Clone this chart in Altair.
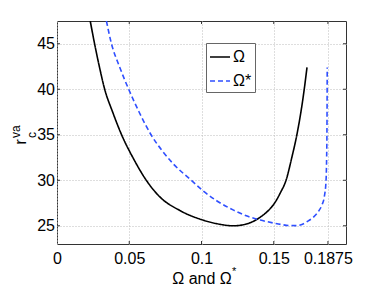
import altair as alt
import pandas as pd

# ---- data ----
series_names = ["Ω", "Ω*"]
black_x = [0.0230, 0.0260, 0.0293, 0.0330, 0.0385, 0.0447, 0.0525, 0.0618, 0.0710, 0.0848,
           0.1010, 0.1100, 0.1222, 0.1300, 0.1360, 0.1420, 0.1464, 0.1510, 0.1545, 0.1585,
           0.1625, 0.1660, 0.1688, 0.1711, 0.1730]
black_y = [47.5, 45.0, 42.5, 40.0, 37.5, 35.0, 32.5, 30.0, 28.2, 26.7,
           25.63, 25.25, 25.0, 25.15, 25.5, 26.1, 26.7, 27.6, 28.6, 30.0,
           32.5, 35.0, 37.5, 40.0, 42.4]
blue_x = [0.0342, 0.0377, 0.0432, 0.0496, 0.0568, 0.0651, 0.0725, 0.0802, 0.0929, 0.1010,
          0.1110, 0.1222, 0.1310, 0.1407, 0.1500, 0.1560, 0.1610, 0.1650, 0.1690, 0.1730,
          0.1775, 0.1810, 0.1834, 0.1850, 0.1862, 0.1866, 0.1868, 0.1869, 0.1870]
blue_y = [47.5, 45.0, 42.5, 40.0, 37.5, 35.0, 33.3, 31.85, 30.0, 28.85,
          27.7, 26.72, 26.1, 25.63, 25.3, 25.12, 25.03, 25.02, 25.12, 25.45,
          25.95, 26.6, 27.3, 28.2, 30.0, 32.5, 35.0, 38.0, 42.4]
x_ticks = [0, 0.05, 0.1, 0.15, 0.1875]
y_ticks = [25, 30, 35, 40, 45]
x_domain = [0, 0.2]
y_domain = [23, 47.5]

rows = []
for i, (x, y) in enumerate(zip(black_x, black_y)):
    rows.append({"s": series_names[0], "x": x, "y": y, "i": i})
for i, (x, y) in enumerate(zip(blue_x, blue_y)):
    rows.append({"s": series_names[1], "x": x, "y": y, "i": i})
df = pd.DataFrame(rows)

W, H = 289, 223
FONT = "Liberation Sans"
BOX = "#333333"

xs = alt.Scale(domain=x_domain, nice=False, zero=False)
ys = alt.Scale(domain=y_domain, nice=False, zero=False)

x_axis = alt.Axis(values=x_ticks, format=".4~f", title="Ω and Ω", titleFont=FONT,
                  titleFontSize=16, titleFontWeight="normal", titleColor="black",
                  titleBaseline="alphabetic", titleY=39, labelPadding=6,
                  labelOverlap=False, labelFlush=False)
y_axis = alt.Axis(values=y_ticks, title="", labelPadding=2.5, labelOverlap=False)

leg = alt.Legend(title=None, orient="none", legendX=149, legendY=22,
                 symbolType="stroke", symbolSize=400, symbolStrokeWidth=1.6,
                 labelFont=FONT, labelFontSize=16, labelColor="black", labelOffset=2,
                 strokeColor="#666666", fillColor="white", padding=3, rowPadding=5)

lines = alt.Chart(df).mark_line(strokeWidth=1.6, clip=True, interpolate="monotone").encode(
    x=alt.X("x:Q", scale=xs, axis=x_axis),
    y=alt.Y("y:Q", scale=ys, axis=y_axis),
    color=alt.Color("s:N", scale=alt.Scale(domain=series_names, range=["#000000", "#2f4fff"]), legend=leg),
    strokeDash=alt.StrokeDash("s:N", scale=alt.Scale(domain=series_names, range=[[1, 0], [5, 3]]), legend=leg),
    order="i:Q",
)

xt = pd.DataFrame({"x": x_ticks[1:]})
yt = pd.DataFrame({"y": y_ticks})
tick_top = alt.Chart(xt).mark_rule(color=BOX).encode(
    x=alt.X("x:Q", scale=xs, axis=x_axis), y=alt.value(0), y2=alt.value(3))
tick_bot = alt.Chart(xt).mark_rule(color=BOX).encode(
    x=alt.X("x:Q", scale=xs, axis=x_axis), y=alt.value(H), y2=alt.value(H - 3))
tick_left = alt.Chart(yt).mark_rule(color=BOX).encode(
    y=alt.Y("y:Q", scale=ys, axis=y_axis), x=alt.value(0), x2=alt.value(3))
tick_right = alt.Chart(yt).mark_rule(color=BOX).encode(
    y=alt.Y("y:Q", scale=ys, axis=y_axis), x=alt.value(W), x2=alt.value(W - 3))

# y-axis title r_c^va built from pieces, and superscript star of x title
lab = pd.DataFrame({"t": ["r"]})
t_r = alt.Chart(lab).mark_text(text="r", font=FONT, fontSize=17, angle=270,
                               align="center", baseline="alphabetic", color="black").encode(
    x=alt.value(-31), y=alt.value(121))
t_va = alt.Chart(lab).mark_text(text="va", font=FONT, fontSize=12, angle=270,
                                align="left", baseline="alphabetic", color="black").encode(
    x=alt.value(-37), y=alt.value(117))
t_c = alt.Chart(lab).mark_text(text="c", font=FONT, fontSize=12, angle=270,
                               align="left", baseline="alphabetic", color="black").encode(
    x=alt.value(-21), y=alt.value(117))
t_star = alt.Chart(lab).mark_text(text="*", font=FONT, fontSize=11,
                                  align="left", baseline="alphabetic", color="black").encode(
    x=alt.value(175), y=alt.value(H + 31))

chart = alt.layer(lines, tick_top, tick_bot, tick_left, tick_right,
                  t_r, t_va, t_c, t_star).properties(
    width=W, height=H,
    autosize=alt.AutoSizeParams(type="none"),
    padding={"left": 49, "top": 13, "right": 20, "bottom": 45},
).configure_view(stroke=BOX, strokeWidth=1).configure_axis(
    domain=False, ticks=False, grid=True, gridColor="#bdbdbd", gridDash=[1, 2],
    gridWidth=1, labelFont=FONT, labelFontSize=16, labelColor="black",
)

chart.save("out.html", embed_options={"renderer": "svg", "actions": False})
